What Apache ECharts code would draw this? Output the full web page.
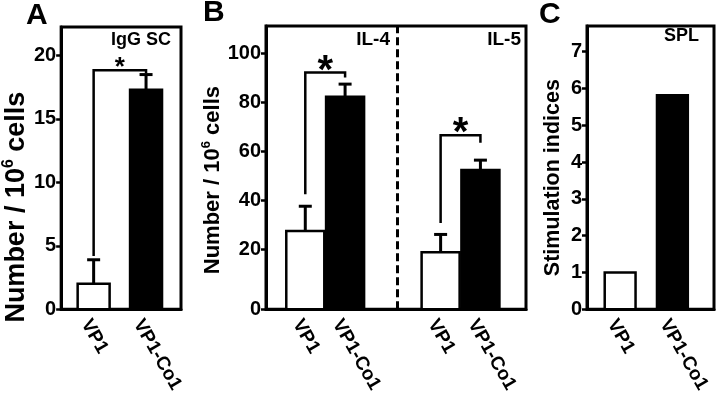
<!DOCTYPE html>
<html><head><meta charset="utf-8">
<script src="https://cdn.jsdelivr.net/npm/echarts@6/dist/echarts.min.js"></script>
<style>html,body{margin:0;padding:0;background:#fff}#c{width:717px;height:396px}</style>
</head><body><div id="c"></div>
<script>
// ---------- data ----------
// Panel A: IgG SC
const aCategories = ['VP1', 'VP1-Co1'];
const aValues = [2.0, 17.3];
const aErrors = [1.9, 1.2];
const aTicks = [0, 5, 10, 15, 20];
const aBracket = [4.2, 18.85, 18.6];       // left bottom, top, right bottom
// Panel B: IL-4 / IL-5
const bGroups = ['IL-4', 'IL-5'];
const bCategories = ['VP1', 'VP1-Co1', 'VP1', 'VP1-Co1'];
const bValues = [27.5, 82.3, 18.8, 52.4];
const bErrors = [10.1, 5.1, 7.3, 4.0];
const bTicks = [0, 20, 40, 60, 80, 100];
const bBrackets = [[42.5, 92.1, 90.1], [30.8, 66.6, 63.5]];
// Panel C: SPL
const cCategories = ['VP1', 'VP1-Co1'];
const cValues = [1.0, 5.82];
const cTicks = [0, 1, 2, 3, 4, 5, 6, 7];

// ---------- layout ----------
const FONT = '"Liberation Sans", Arial, Helvetica, sans-serif';
const B_GROUP_STEP = 3.4;   // spacing between the IL-4 and IL-5 pairs (in bar units)
const B_DIVIDER = 2.31;
const B_FLOOR = -4.4;       // axis floor drawn below 0 (offset axis)
const aPos = aCategories.map((_, i) => i);
const bPos = bCategories.map((_, i) => (i % 2) + Math.floor(i / 2) * B_GROUP_STEP);
const cPos = cCategories.map((_, i) => i);
const bTickVals = bTicks.map(v => v === 0 ? B_FLOOR : v);

function barRender(floorVal, widthUnits) {
  return function (params, api) {
    const x = api.value(0), v = api.value(1), e = api.value(2);
    const w = api.size([widthUnits, 0])[0];
    const top = api.coord([x, v]);
    const base = api.coord([x, floorVal]);
    const fill = params.dataIndex % 2 === 0 ? '#fff' : '#000';
    const ch = [{
      type: 'rect',
      shape: { x: top[0] - w / 2, y: top[1], width: w, height: base[1] - top[1] },
      style: { fill: fill, stroke: '#000', lineWidth: 2.5 }
    }];
    if (e > 0) {
      const et = api.coord([x, v + e]);
      ch.push({ type: 'line', shape: { x1: top[0], y1: top[1], x2: top[0], y2: et[1] }, style: { stroke: '#000', lineWidth: 3 } });
      ch.push({ type: 'line', shape: { x1: top[0] - 6.5, y1: et[1], x2: top[0] + 6.5, y2: et[1] }, style: { stroke: '#000', lineWidth: 3 } });
    }
    return { type: 'group', children: ch };
  };
}
function bracketRender(starSize, starLift) {
  return function (params, api) {
    const x1 = api.value(0), x2 = api.value(1);
    const p1 = api.coord([x1, api.value(2)]);
    const p2 = api.coord([x1, api.value(3)]);
    const p3 = api.coord([x2, api.value(3)]);
    const p4 = api.coord([x2, api.value(4)]);
    return {
      type: 'group', children: [
        { type: 'polyline', shape: { points: [p1, p2, p3, p4] }, style: { stroke: '#000', lineWidth: 2.5, fill: null } },
        { type: 'text', x: (p2[0] + p3[0]) / 2, y: p2[1] - starLift,
          style: { text: '*', font: 'bold ' + starSize + 'px ' + FONT, fill: '#000', align: 'center', verticalAlign: 'middle' } }
      ]
    };
  };
}
function yAxis(grid, min, max, ticks, name, size, gap, pad, fmt) {
  return {
    gridIndex: grid, type: 'value', min: min, max: max,
    axisLine: { show: true, onZero: false, lineStyle: { color: '#000', width: 3 } },
    axisTick: { show: true, inside: false, length: 5, lineStyle: { color: '#000', width: 2.5 }, customValues: ticks },
    axisLabel: { customValues: ticks, color: '#000', fontSize: 20, fontWeight: 'bold', fontFamily: FONT, margin: 5,
      formatter: fmt || (v => String(v)) },
    splitLine: { show: false },
    name: name, nameLocation: 'middle', nameGap: gap, nameRotate: 90,
    nameTextStyle: { color: '#000', fontSize: size, fontWeight: 'bold', fontFamily: FONT, padding: [0, pad, 0, 0],
      rich: { sup: { fontSize: Math.round(size * 0.6), fontWeight: 'bold', fontFamily: FONT, color: '#000', padding: [0, 0, Math.round(size * 0.55), 0] } } }
  };
}
function xAxis(grid, min, max, pos, cats) {
  return {
    gridIndex: grid, type: 'value', min: min, max: max,
    axisLine: { show: true, onZero: false, lineStyle: { color: '#000', width: 3 } },
    axisTick: { show: false },
    splitLine: { show: false },
    axisLabel: { customValues: pos, rotate: -60, margin: 7, align: 'left', verticalAlign: 'top',
      color: '#000', fontSize: 19, fontWeight: 'bold', fontFamily: FONT,
      formatter: v => { const i = pos.findIndex(p => Math.abs(p - v) < 1e-6); return i >= 0 ? cats[i] : ''; } }
  };
}

const chart = echarts.init(document.getElementById('c'), null, { renderer: 'canvas' });
const gridBase = { show: true, borderColor: '#000', borderWidth: 3, backgroundColor: 'transparent', containLabel: false };
chart.setOption({
  animation: false,
  backgroundColor: '#fff',
  grid: [
    Object.assign({ left: 61, top: 27, width: 120, height: 287 }, gridBase),
    Object.assign({ left: 266, top: 26, width: 260, height: 285 }, gridBase),
    Object.assign({ left: 587, top: 26, width: 127, height: 286 }, gridBase)
  ],
  xAxis: [
    xAxis(0, -0.62, 1.667, aPos, aCategories),
    xAxis(1, -0.987, 5.545, bPos, bCategories),
    xAxis(2, -0.634, 1.796, cPos, cCategories)
  ],
  yAxis: [
    yAxis(0, 0, 22.25, aTicks, 'Number / 10{sup|6} cells', 27, 24, 78),
    yAxis(1, B_FLOOR, 111.1, bTickVals, 'Number / 10{sup|6} cells', 22, 36, 25, v => (v < 0 ? '0' : String(v))),
    yAxis(2, 0, 7.7, cTicks, 'Stimulation indices', 21.5, 23, 20)
  ],
  series: [
    { type: 'custom', xAxisIndex: 0, yAxisIndex: 0, renderItem: barRender(0, 0.61),
      data: aValues.map((v, i) => [aPos[i], v, aErrors[i]]) },
    { type: 'custom', xAxisIndex: 0, yAxisIndex: 0, renderItem: bracketRender(26, 2),
      data: [[aPos[0], aPos[1]].concat(aBracket)] },
    { type: 'custom', xAxisIndex: 1, yAxisIndex: 1, renderItem: barRender(B_FLOOR, 0.955),
      data: bValues.map((v, i) => [bPos[i], v, bErrors[i]]),
      markLine: { silent: true, symbol: ['none', 'none'], label: { show: false },
        lineStyle: { type: [8, 4], color: '#000', width: 3 }, data: [{ xAxis: B_DIVIDER }] } },
    { type: 'custom', xAxisIndex: 1, yAxisIndex: 1, renderItem: bracketRender(40, 1),
      data: bBrackets.map((b, g) => [bPos[g * 2], bPos[g * 2 + 1]].concat(b)) },
    { type: 'custom', xAxisIndex: 2, yAxisIndex: 2, renderItem: barRender(0, 0.59),
      data: cValues.map((v, i) => [cPos[i], v, 0]) }
  ],
  graphic: [
    { type: 'text', x: 26, y: 1, style: { text: 'A', font: 'bold 30px ' + FONT, fill: '#000' } },
    { type: 'text', x: 203, y: -2, style: { text: 'B', font: 'bold 30px ' + FONT, fill: '#000' } },
    { type: 'text', x: 539, y: 0, style: { text: 'C', font: 'bold 30px ' + FONT, fill: '#000' } },
    { type: 'text', x: 171, y: 31, style: { text: 'IgG SC', font: 'bold 18px ' + FONT, fill: '#000', align: 'right' } },
    { type: 'text', x: 390, y: 30, style: { text: bGroups[0], font: 'bold 19px ' + FONT, fill: '#000', align: 'right' } },
    { type: 'text', x: 521, y: 30, style: { text: bGroups[1], font: 'bold 19px ' + FONT, fill: '#000', align: 'right' } },
    { type: 'text', x: 699, y: 27, style: { text: 'SPL', font: 'bold 18px ' + FONT, fill: '#000', align: 'right' } }
  ]
});
</script></body></html>
